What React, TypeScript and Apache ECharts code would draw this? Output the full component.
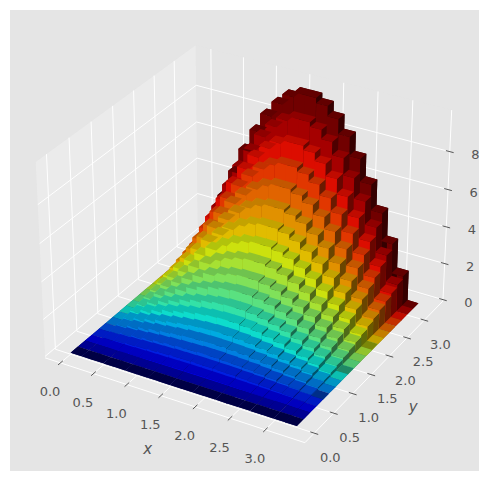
import React, { useEffect, useRef } from "react";
import * as echarts from "echarts";

const xValues = [0, 0.17, 0.33, 0.5, 0.66, 0.83, 0.99, 1.16, 1.32, 1.49, 1.65, 1.82, 1.98, 2.15, 2.31, 2.48, 2.65, 2.81, 2.98, 3.14];
const yValues = [0, 0.17, 0.33, 0.5, 0.66, 0.83, 0.99, 1.16, 1.32, 1.49, 1.65, 1.82, 1.98, 2.15, 2.31, 2.48, 2.65, 2.81, 2.98, 3.14];
const heightRows = [
  [0, 0, 0, 0, 0, 0, 0, 0, 0, 0, 0, 0, 0, 0, 0, 0, 0, 0, 0, 0],
  [0, 0, 0.01, 0.01, 0.02, 0.02, 0.02, 0.03, 0.03, 0.03, 0.03, 0.03, 0.03, 0.02, 0.02, 0.02, 0.01, 0.01, 0, 0],
  [0, 0.02, 0.04, 0.05, 0.07, 0.08, 0.09, 0.1, 0.11, 0.11, 0.11, 0.11, 0.1, 0.09, 0.08, 0.07, 0.05, 0.04, 0.02, 0],
  [0, 0.04, 0.08, 0.12, 0.15, 0.18, 0.21, 0.23, 0.24, 0.25, 0.25, 0.24, 0.23, 0.21, 0.18, 0.15, 0.12, 0.08, 0.04, 0],
  [0, 0.07, 0.14, 0.21, 0.27, 0.32, 0.37, 0.4, 0.42, 0.44, 0.44, 0.42, 0.4, 0.37, 0.32, 0.27, 0.21, 0.14, 0.07, 0],
  [0, 0.11, 0.22, 0.33, 0.42, 0.5, 0.57, 0.63, 0.66, 0.68, 0.68, 0.66, 0.63, 0.57, 0.5, 0.42, 0.33, 0.22, 0.11, 0],
  [0, 0.16, 0.32, 0.47, 0.6, 0.72, 0.82, 0.9, 0.95, 0.98, 0.98, 0.95, 0.9, 0.82, 0.72, 0.6, 0.47, 0.32, 0.16, 0],
  [0, 0.22, 0.44, 0.64, 0.82, 0.99, 1.12, 1.23, 1.3, 1.34, 1.34, 1.3, 1.23, 1.12, 0.99, 0.82, 0.64, 0.44, 0.22, 0],
  [0, 0.29, 0.57, 0.83, 1.07, 1.29, 1.46, 1.6, 1.7, 1.74, 1.74, 1.7, 1.6, 1.46, 1.29, 1.07, 0.83, 0.57, 0.29, 0],
  [0, 0.36, 0.72, 1.05, 1.36, 1.63, 1.85, 2.03, 2.15, 2.21, 2.21, 2.15, 2.03, 1.85, 1.63, 1.36, 1.05, 0.72, 0.36, 0],
  [0, 0.45, 0.89, 1.3, 1.68, 2.01, 2.29, 2.5, 2.65, 2.72, 2.72, 2.65, 2.5, 2.29, 2.01, 1.68, 1.3, 0.89, 0.45, 0],
  [0, 0.54, 1.07, 1.57, 2.03, 2.43, 2.77, 3.03, 3.21, 3.3, 3.3, 3.21, 3.03, 2.77, 2.43, 2.03, 1.57, 1.07, 0.54, 0],
  [0, 0.65, 1.28, 1.87, 2.42, 2.9, 3.3, 3.61, 3.82, 3.92, 3.92, 3.82, 3.61, 3.3, 2.9, 2.42, 1.87, 1.28, 0.65, 0],
  [0, 0.76, 1.5, 2.2, 2.84, 3.4, 3.87, 4.23, 4.48, 4.6, 4.6, 4.48, 4.23, 3.87, 3.4, 2.84, 2.2, 1.5, 0.76, 0],
  [0, 0.88, 1.74, 2.55, 3.29, 3.94, 4.49, 4.91, 5.19, 5.34, 5.34, 5.19, 4.91, 4.49, 3.94, 3.29, 2.55, 1.74, 0.88, 0],
  [0, 1.01, 2.0, 2.93, 3.78, 4.53, 5.15, 5.63, 5.96, 6.13, 6.13, 5.96, 5.63, 5.15, 4.53, 3.78, 2.93, 2.0, 1.01, 0],
  [0, 1.15, 2.27, 3.33, 4.3, 5.15, 5.86, 6.41, 6.78, 6.98, 6.98, 6.78, 6.41, 5.86, 5.15, 4.3, 3.33, 2.27, 1.15, 0],
  [0, 1.3, 2.57, 3.76, 4.85, 5.81, 6.61, 7.24, 7.66, 7.87, 7.87, 7.66, 7.24, 6.61, 5.81, 4.85, 3.76, 2.57, 1.3, 0],
  [0, 1.46, 2.88, 4.22, 5.44, 6.52, 7.42, 8.11, 8.59, 8.83, 8.83, 8.59, 8.11, 7.42, 6.52, 5.44, 4.22, 2.88, 1.46, 0],
  [0, 1.62, 3.2, 4.7, 6.06, 7.26, 8.26, 9.04, 9.57, 9.84, 9.84, 9.57, 9.04, 8.26, 7.26, 6.06, 4.7, 3.2, 1.62, 0],
];
const darkFlatRowsAtEnd = [4, 8, 12];
const xTicks = [0, 0.5, 1, 1.5, 2, 2.5, 3];
const yTicks = [0, 0.5, 1, 1.5, 2, 2.5, 3];
const zTicks = [0, 2, 4, 6, 8];
const xTickLabels = ["0.0", "0.5", "1.0", "1.5", "2.0", "2.5", "3.0"];
const yTickLabels = ["0.0", "0.5", "1.0", "1.5", "2.0", "2.5", "3.0"];
const zTickLabels = ["0", "2", "4", "6", "8"];

const BAR_DX = 0.168;
const BAR_DY = 0.168;
const X_LIM = [-0.235, 3.55];
const Y_LIM = [-0.235, 3.55];
const Z_LIM = [-0.08, 10.15];

// 3D view (elevation 30, azimuth -60, distance 10, box aspect 4:4:3)
const el = (30 * Math.PI) / 180;
const az = (-60 * Math.PI) / 180;
const boxK = (1.8294640721620434 * 25) / 24 / Math.sqrt(41);
const box = [4 * boxK, 4 * boxK, 3 * boxK];
const W = [Math.cos(el) * Math.cos(az), Math.cos(el) * Math.sin(az), Math.sin(el)];
const U = [-Math.sin(az), Math.cos(az), 0];
const V = [W[1] * U[2] - W[2] * U[1], W[2] * U[0] - W[0] * U[2], W[0] * U[1] - W[1] * U[0]];

type P3 = [number, number, number];
function project(p: P3) {
  const d = [
    ((p[0] - X_LIM[0]) / (X_LIM[1] - X_LIM[0]) - 0.5) * box[0],
    ((p[1] - Y_LIM[0]) / (Y_LIM[1] - Y_LIM[0]) - 0.5) * box[1],
    ((p[2] - Z_LIM[0]) / (Z_LIM[1] - Z_LIM[0]) - 0.5) * box[2],
  ];
  const xv = U[0] * d[0] + U[1] * d[1] + U[2] * d[2];
  const yv = V[0] * d[0] + V[1] * d[1] + V[2] * d[2];
  const zv = W[0] * d[0] + W[1] * d[1] + W[2] * d[2] - 10;
  return { x: xv / -zv, y: yv / -zv, t: 10 / zv };
}

const JET: Record<string, number[][]> = {
  r: [[0, 0], [0.35, 0], [0.66, 1], [0.89, 1], [1, 0.5]],
  g: [[0, 0], [0.125, 0], [0.375, 1], [0.64, 1], [0.91, 0], [1, 0]],
  b: [[0, 0.5], [0.11, 1], [0.34, 1], [0.65, 0], [1, 0]],
};
function lerpTable(tb: number[][], v: number) {
  for (let i = 1; i < tb.length; i++) {
    if (v <= tb[i][0]) {
      const f = (v - tb[i - 1][0]) / (tb[i][0] - tb[i - 1][0]);
      return tb[i - 1][1] + f * (tb[i][1] - tb[i - 1][1]);
    }
  }
  return tb[tb.length - 1][1];
}
function shadedJet(v: number, shade: number) {
  const c = ["r", "g", "b"].map((k) => Math.round(lerpTable(JET[k], v) * shade * 255));
  return `rgb(${c[0]},${c[1]},${c[2]})`;
}

// light from azimuth 225, altitude 19.4712; shade mapped to 0.3..1
const LIGHT = [-2 / 3, -2 / 3, 1 / 3];
const shadeOf = (n: number[]) => 0.3 + 0.7 * ((n[0] * LIGHT[0] + n[1] * LIGHT[1] + n[2] * LIGHT[2] + 1) / 2);

type Item = {
  kind: string;
  pts?: { x: number; y: number }[];
  fill?: string;
  stroke?: string;
  lw?: number;
  text?: string;
  font?: string;
  dx?: number;
  dy?: number;
  t?: number;
};

const faces: Item[] = [];
yValues.forEach((y, j) => {
  xValues.forEach((x, i) => {
    const h = heightRows[j][i];
    const x1 = x + BAR_DX;
    const y1 = y + BAR_DY;
    const bottom: [P3[], number[]] = [[[x, y, 0], [x1, y, 0], [x1, y1, 0], [x, y1, 0]], [0, 0, -1]];
    const top: [P3[], number[]] = [[[x, y, h], [x1, y, h], [x1, y1, h], [x, y1, h]], [0, 0, 1]];
    // where a flat bar's two caps coincide, the darker underside shows in these rows
    const darkCap = j === 0 || (i === xValues.length - 1 && darkFlatRowsAtEnd.includes(j));
    const quads: [P3[], number[]][] = [
      ...(darkCap ? [top, bottom] : [bottom, top]),
      [[[x, y, 0], [x1, y, 0], [x1, y, h], [x, y, h]], [0, -1, 0]],
      [[[x, y1, 0], [x1, y1, 0], [x1, y1, h], [x, y1, h]], [0, 1, 0]],
      [[[x, y, 0], [x, y1, 0], [x, y1, h], [x, y, h]], [-1, 0, 0]],
      [[[x1, y, 0], [x1, y1, 0], [x1, y1, h], [x1, y, h]], [1, 0, 0]],
    ];
    quads.forEach(([q, n]) => {
      const pr = q.map(project);
      const t = pr.reduce((s, p) => s + p.t, 0) / pr.length;
      faces.push({ kind: "poly", pts: pr, fill: shadedJet(y / yValues[yValues.length - 1], shadeOf(n)), t });
    });
  });
});
faces.sort((a, b) => (b.t as number) - (a.t as number));

const [x0, x1] = X_LIM;
const [y0, y1] = Y_LIM;
const [z0, z1] = Z_LIM;
const poly3 = (pts: P3[]) => pts.map(project);

const frame: Item[] = [
  { kind: "poly", pts: poly3([[x0, y0, z0], [x0, y1, z0], [x0, y1, z1], [x0, y0, z1]]), fill: "rgba(242,242,242,0.5)" },
  { kind: "poly", pts: poly3([[x0, y1, z0], [x1, y1, z0], [x1, y1, z1], [x0, y1, z1]]), fill: "rgba(230,230,230,0.5)" },
  { kind: "poly", pts: poly3([[x0, y0, z0], [x1, y0, z0], [x1, y1, z0], [x0, y1, z0]]), fill: "rgba(236,236,236,0.5)" },
];
const WHITE = { kind: "line", stroke: "#ffffff", lw: 1 };
xTicks.forEach((v) => frame.push({ ...WHITE, pts: poly3([[v, y0, z0], [v, y1, z0], [v, y1, z1]]) }));
yTicks.forEach((v) => frame.push({ ...WHITE, pts: poly3([[x1, v, z0], [x0, v, z0], [x0, v, z1]]) }));
zTicks.forEach((v) => frame.push({ ...WHITE, pts: poly3([[x0, y0, v], [x0, y1, v], [x1, y1, v]]) }));
frame.push({ ...WHITE, pts: poly3([[x0, y0, z0], [x1, y0, z0]]) });
frame.push({ ...WHITE, pts: poly3([[x1, y0, z0], [x1, y1, z0]]) });
frame.push({ ...WHITE, pts: poly3([[x1, y1, z0], [x1, y1, z1]]) });
const TICK = { kind: "line", stroke: "#555555", lw: 1 };
const TK = 0.055;
xTicks.forEach((v) => frame.push({ ...TICK, pts: poly3([[v, y0 - TK, z0], [v, y0 + TK, z0]]) }));
yTicks.forEach((v) => frame.push({ ...TICK, pts: poly3([[x1 - TK, v, z0], [x1 + TK, v, z0]]) }));
zTicks.forEach((v) => frame.push({ ...TICK, pts: poly3([[x1 - TK, y1, v], [x1 + TK, y1, v]]) }));

const TICK_FONT = '13px "DejaVu Sans"';
const NAME_FONT = 'italic 15px "DejaVu Sans"';
const labels: Item[] = [];
xTicks.forEach((v, i) =>
  labels.push({ kind: "text", pts: poly3([[v, y0, z0]]), text: xTickLabels[i], font: TICK_FONT, dx: -10.5, dy: 29 })
);
yTicks.forEach((v, i) =>
  labels.push({ kind: "text", pts: poly3([[x1, v, z0]]), text: yTickLabels[i], font: TICK_FONT, dx: 16, dy: 24 })
);
zTicks.forEach((v, i) =>
  labels.push({ kind: "text", pts: poly3([[x1, y1, v]]), text: zTickLabels[i], font: TICK_FONT, dx: 25.5, dy: 2.5 })
);
labels.push({ kind: "text", pts: poly3([[1.5, y0, z0]]), text: "x", font: NAME_FONT, dx: -13, dy: 53 });
labels.push({ kind: "text", pts: poly3([[x1, 1.5, z0]]), text: "y", font: NAME_FONT, dx: 42, dy: 32 });

const items: Item[] = [...frame, ...faces, ...labels];

function renderItem(_params: any, api: any) {
  const it = items[api.value(2)];
  const pts = (it.pts as { x: number; y: number }[]).map((p) => api.coord([p.x, p.y]));
  if (it.kind === "text") {
    return {
      type: "text",
      silent: true,
      style: {
        x: pts[0][0] + (it.dx as number),
        y: pts[0][1] + (it.dy as number),
        text: it.text,
        font: it.font,
        fill: "#555555",
        align: "center",
        verticalAlign: "middle",
      },
    };
  }
  if (it.kind === "line") {
    return {
      type: "polyline",
      silent: true,
      shape: { points: pts },
      style: { fill: "none", stroke: it.stroke, lineWidth: it.lw },
    };
  }
  return { type: "polygon", silent: true, shape: { points: pts }, style: { fill: it.fill } };
}

export default function App() {
  const ref = useRef<HTMLDivElement>(null);
  useEffect(() => {
    document.body.style.margin = "0";
    const chart = echarts.init(ref.current as HTMLDivElement, undefined, { renderer: "svg" });
    chart.setOption({
      animation: false,
      grid: { show: true, left: 10, top: 10, width: 469, height: 461, backgroundColor: "#E5E5E5", borderWidth: 0 },
      xAxis: { type: "value", show: false, min: (10 - 247.7) / 2500, max: (479 - 247.7) / 2500 },
      yAxis: { type: "value", show: false, min: (234.4 - 471) / 2500, max: (234.4 - 10) / 2500 },
      tooltip: { show: false },
      series: [
        {
          type: "custom",
          renderItem,
          clip: false,
          silent: true,
          data: items.map((it, i) => [(it.pts as any)[0].x, (it.pts as any)[0].y, i]),
          encode: { x: 0, y: 1 },
        },
      ],
    });
    return () => chart.dispose();
  }, []);
  return <div ref={ref} style={{ width: 489, height: 482 }} />;
}
